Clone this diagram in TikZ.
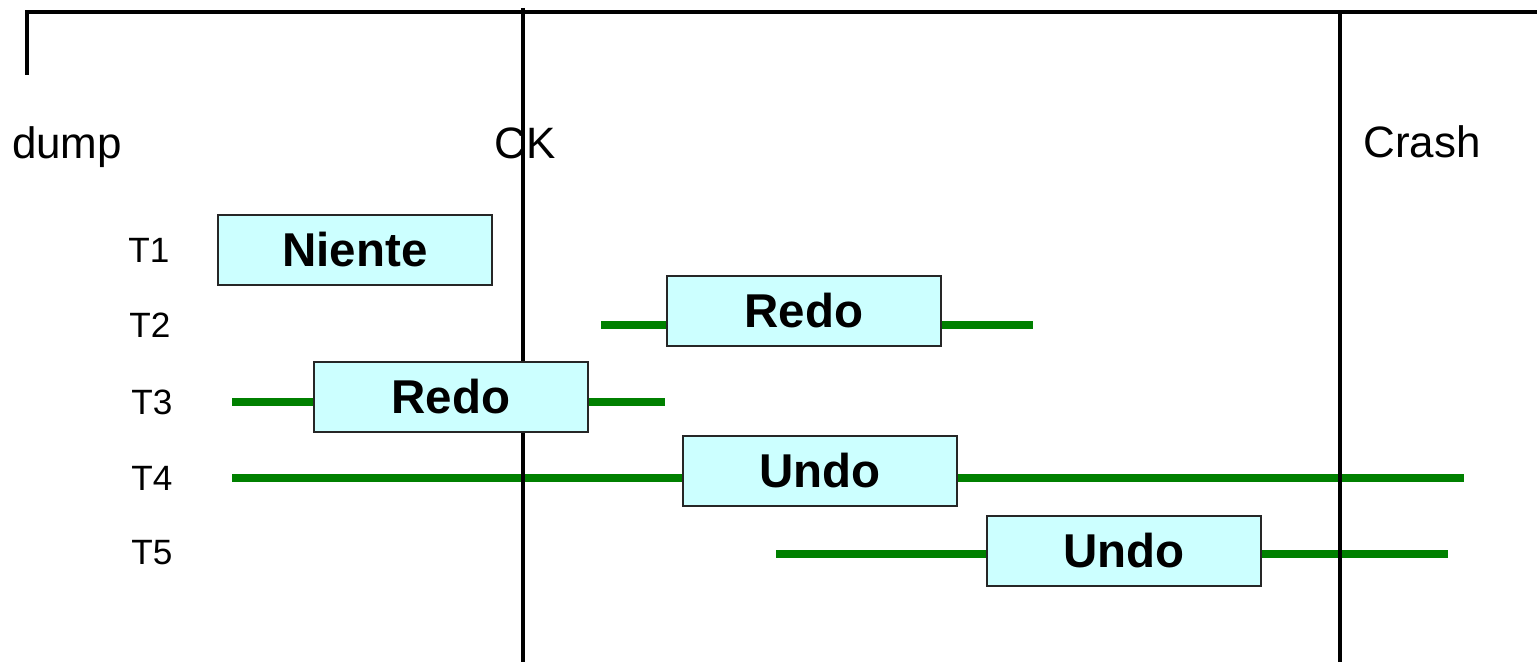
\documentclass[tikz,border=0pt]{standalone}
\usepackage{fontspec}
\setmainfont{Liberation Sans}
\definecolor{logbox}{rgb}{0.8,1,1}
\definecolor{txgreen}{rgb}{0,0.5,0}
\tikzset{
  action/.style={draw=black!85, line width=0.6pt, fill=logbox, minimum width=2.73cm,
    minimum height=0.70cm, inner sep=0pt, font=\fontsize{13.5pt}{16pt}\selectfont\bfseries},
  txline/.style={txgreen, line width=2.3pt},
  timeline/.style={black, line width=0.9pt}
}
\begin{document}
\begin{tikzpicture}[x=0.01cm, y=-0.01cm]
        \useasboundingbox (0,0) rectangle (1537,665);

        % transaction lines
        \coordinate (t2s) at (601,325);  \coordinate (t2e) at (1033,325);
        \coordinate (t3s) at (232,402);  \coordinate (t3e) at (665,402);
        \coordinate (t4s) at (232,478);  \coordinate (t4e) at (1464,478);
        \coordinate (t5s) at (776,554);  \coordinate (t5e) at (1448,554);
        \draw[txline] (t2s) -- (t2e);
        \draw[txline] (t3s) -- (t3e);
        \draw[txline] (t4s) -- (t4e);
        \draw[txline] (t5s) -- (t5e);

        % time axis
        \coordinate (dumptick) at (27,75);
        \coordinate (axisL) at (27,12);
        \coordinate (axisR) at (1537,12);
        \coordinate (cktop) at (523,8);   \coordinate (ckbot) at (523,662);
        \coordinate (crtop) at (1340,14); \coordinate (crbot) at (1340,662);
        \draw[timeline] (dumptick) -- (axisL) -- (axisR);
        \draw[timeline] (cktop) -- (ckbot);
        \draw[timeline] (crtop) -- (crbot);

        \begin{scope}[every node/.style={anchor=base, font=\fontsize{12.5pt}{15pt}\selectfont}]
          \node (dump)  at (67,159)   {dump};
          \node (ck)    at (525,159)  {CK};
          \node (crash) at (1422,158) {Crash};
        \end{scope}

        \begin{scope}[every node/.style={font=\fontsize{10pt}{12pt}\selectfont}]
          \node (T1) at (149,250) {T1};
          \node (T2) at (150,325) {T2};
          \node (T3) at (152,402) {T3};
          \node (T4) at (152,478) {T4};
          \node (T5) at (152,553) {T5};
        \end{scope}

        \begin{scope}[every node/.style={action}]
          \node (niente) at (355,250)  {Niente};
          \node (redoA)  at (804,311)  {Redo};
          \node (redoB)  at (451,397)  {Redo};
          \node (undoA)  at (820,471)  {Undo};
          \node (undoB)  at (1124,551) {Undo};
        \end{scope}

      \end{tikzpicture}
\end{document}
